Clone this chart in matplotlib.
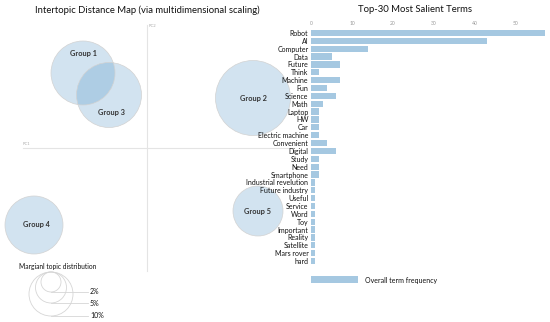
import matplotlib.pyplot as plt
import matplotlib.transforms as mtransforms
from matplotlib.patches import Circle, Rectangle

plt.rcParams['font.family'] = ['Lato', 'DejaVu Sans']

# topic map (PC1, PC2), radius and label position, all in map units
topics = ["Group 1", "Group 2", "Group 3", "Group 4", "Group 5"]
pc1 = [-64, 106, -38, -113, 111]
pc2 = [75, 50, 53, -77, -63]
radius = [32, 37.5, 32.5, 29, 25]
label_x = [-64, 106, -36, -111, 111]
label_y = [95, 50, 36, -77, -63]

# top-30 salient terms
terms = ["Robot", "AI", "Computer", "Data", "Future", "Think", "Machine", "Fun",
         "Science", "Math", "Laptop", "HW", "Car", "Electric machine", "Convenient",
         "Digital", "Study", "Need", "Smartphone", "Industrial revelution",
         "Future industry", "Useful", "Service", "Word", "Toy", "Important",
         "Reality", "Satellite", "Mars rover", "hard"]
freq = [57, 43, 14, 5, 7, 2, 7, 4, 6, 3, 2, 2, 2, 2, 4, 6, 2, 2, 2,
        1, 1, 1, 1, 1, 1, 1, 1, 1, 1, 1]

legend_sizes = ["2%", "5%", "10%"]
legend_r = [10, 15.5, 22]

W, H = 550, 322
fig = plt.figure(figsize=(W / 100, H / 100), dpi=100)
px = mtransforms.Affine2D().scale(1 / W, -1 / H).translate(0, 1) + fig.transFigure

blue = "#1f77b4"
ink = "#111111"

# ---- left panel: intertopic distance map
ax = fig.add_axes([0, 0, 1, 1])
ax.set_xlim(-147, W - 147)
ax.set_ylim(148 - H, 148)
ax.axis("off")
ax.plot([-124, 145], [0, 0], color="#e4e4e4", lw=0.8, zorder=0)
ax.plot([0, 0], [-123, 123], color="#e4e4e4", lw=0.8, zorder=0)
ax.text(-124, 2, "PC1", fontsize=3, color="#aaaaaa", ha="left", va="bottom")
ax.text(2, 122, "PC2", fontsize=3, color="#aaaaaa", ha="left", va="center")
for i in range(len(topics)):
    ax.add_patch(Circle((pc1[i], pc2[i]), radius[i], facecolor=blue, alpha=0.2,
                        edgecolor="none", zorder=1))
    ax.add_patch(Circle((pc1[i], pc2[i]), radius[i], facecolor="none",
                        edgecolor="#d2d2d2", lw=0.5, zorder=2))
    ax.text(label_x[i], label_y[i], topics[i], fontsize=5.3, fontweight="bold",
            color="#333333", ha="center", va="center", zorder=3)

fig.text(147 / W, 1 - 10 / H, "Intertopic Distance Map (via multidimensional scaling)",
         fontsize=6.8, color=ink, ha="center", va="center")

# marginal topic distribution legend (pixel coords)
fig.text(58 / W, 1 - 266 / H, "Margianl topic distribution", fontsize=4.8,
         color=ink, ha="center", va="center")
for lab, r in zip(legend_sizes, legend_r):
    fig.patches.append(Circle((51, 272 + r), r, transform=px, facecolor="none",
                              edgecolor="#d6d6d6", lw=0.6))
    fig.lines.append(plt.Line2D([51, 88], [272 + 2 * r, 272 + 2 * r], transform=px,
                                color="#d6d6d6", lw=0.6))
    fig.text(90 / W, 1 - (272 + 2 * r) / H, lab, fontsize=5.0, color=ink,
             ha="left", va="center")

# ---- right panel: salient terms
axb = fig.add_axes([311 / W, (H - 265) / H, (548 - 311) / W, 236 / H])
axb.barh(range(len(terms)), freq, height=0.8, color=blue, alpha=0.4)
axb.set_xlim(0, 57.8)
axb.set_ylim(len(terms) - 0.5, -0.5)
axb.set_yticks(range(len(terms)))
axb.set_yticklabels(terms)
axb.set_xticks(range(0, 60, 10))
axb.xaxis.tick_top()
axb.tick_params(axis="x", length=0, labelsize=3.6, labelcolor="#999999", pad=2.5)
axb.tick_params(axis="y", length=0, labelsize=5.0, labelcolor=ink, pad=1.8)
axb.patch.set_alpha(0)
for s in axb.spines.values():
    s.set_visible(False)

fig.text(415 / W, 1 - 10 / H, "Top-30 Most Salient Terms", fontsize=6.8,
         color=ink, ha="center", va="center")

fig.patches.append(Rectangle((311, 276.5), 47, 7, transform=px, facecolor=blue,
                             alpha=0.4, edgecolor="none"))
fig.text(365 / W, 1 - 280 / H, "Overall term frequency", fontsize=5.0,
         color=ink, ha="left", va="center")

fig.savefig("out.png", dpi=100)
